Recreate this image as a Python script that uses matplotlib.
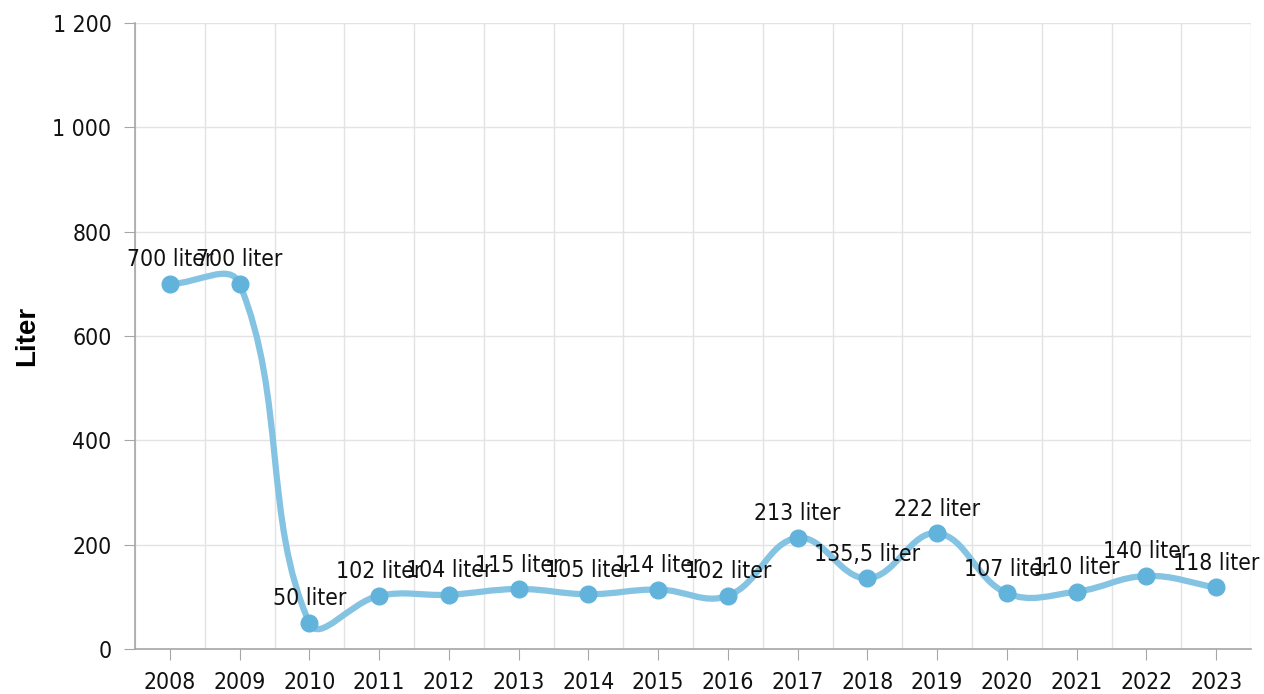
import numpy as np
import matplotlib
matplotlib.use("Agg")
import matplotlib.pyplot as plt
from matplotlib.path import Path
from matplotlib.patches import PathPatch
from matplotlib.ticker import FuncFormatter

# data
years = ["2008", "2009", "2010", "2011", "2012", "2013", "2014", "2015",
         "2016", "2017", "2018", "2019", "2020", "2021", "2022", "2023"]
liters = [700, 700, 50, 102, 104, 115, 105, 114, 102, 213, 135.5, 222, 107, 110, 140, 118]
labels = ["700 liter", "700 liter", "50 liter", "102 liter", "104 liter", "115 liter",
          "105 liter", "114 liter", "102 liter", "213 liter", "135,5 liter", "222 liter",
          "107 liter", "110 liter", "140 liter", "118 liter"]

line_col = "#85c3e3"
dot_col = "#62b3db"
grey = "#a6a6a6"

fig = plt.figure(figsize=(12.64, 6.94), dpi=100)
ax = fig.add_axes([135 / 1264, 1 - 649 / 694, (1251 - 135) / 1264, (649 - 23) / 694])

x = np.arange(len(years))
ax.set_xlim(-0.5, len(years) - 0.5)
ax.set_ylim(0, 1200)

# smoothed line: bezier with tension, control points worked out in pixel space
pts = ax.transData.transform(np.column_stack([x, liters]))
t = 0.4
n = len(pts)
ctrl_prev, ctrl_next = [], []
for i in range(n):
    p = pts[i]
    a = pts[i - 1] if i > 0 else p
    b = pts[i + 1] if i < n - 1 else p
    d01 = np.hypot(*(p - a))
    d12 = np.hypot(*(b - p))
    tot = d01 + d12 if d01 + d12 > 0 else 1
    ctrl_prev.append(p - t * d01 / tot * (b - a))
    ctrl_next.append(p + t * d12 / tot * (b - a))
verts = [pts[0]]
codes = [Path.MOVETO]
for i in range(n - 1):
    verts += [ctrl_next[i], ctrl_prev[i + 1], pts[i + 1]]
    codes += [Path.CURVE4] * 3
verts = ax.transData.inverted().transform(np.array(verts))
ax.add_patch(PathPatch(Path(verts, codes), fill=False, edgecolor=line_col,
                       lw=4.5, capstyle="round", joinstyle="round", zorder=3))

ax.plot(x, liters, "o", color=dot_col, markersize=12, zorder=4)

for xi, yi, lab in zip(x, liters, labels):
    ax.annotate(lab, (xi, yi), xytext=(0, 24), textcoords="offset pixels",
                ha="center", va="center", fontsize=16.5, fontstretch="condensed",
                family="DejaVu Sans", color="#111111", zorder=5)

ax.set_xticks(x)
ax.set_xticklabels(years)
ax.set_xticks(np.arange(-0.5, len(years)), minor=True)
ax.set_yticks(np.arange(0, 1201, 200))
ax.yaxis.set_major_formatter(FuncFormatter(lambda v, p: f"{v:,.0f}".replace(",", " ")))

ax.grid(False)
ax.xaxis.grid(True, which="minor", color="#e3e3e3", lw=1)
ax.yaxis.grid(True, which="major", color="#e3e3e3", lw=1)
ax.set_axisbelow(True)

for s in ["top", "right"]:
    ax.spines[s].set_visible(False)
for s in ["left", "bottom"]:
    ax.spines[s].set_color(grey)
    ax.spines[s].set_linewidth(1.2)

ax.tick_params(axis="x", which="major", length=8, color=grey, pad=8, labelsize=16.5)
ax.tick_params(axis="x", which="minor", length=0)
ax.tick_params(axis="y", length=8, color=grey, pad=9, labelsize=16.5)
for lab in ax.get_xticklabels() + ax.get_yticklabels():
    lab.set_fontstretch("condensed")
    lab.set_color("#111111")

ax.set_ylabel("Liter", fontsize=20, fontweight="bold", family="Liberation Sans", labelpad=9)

fig.savefig("out.png", dpi=100)
